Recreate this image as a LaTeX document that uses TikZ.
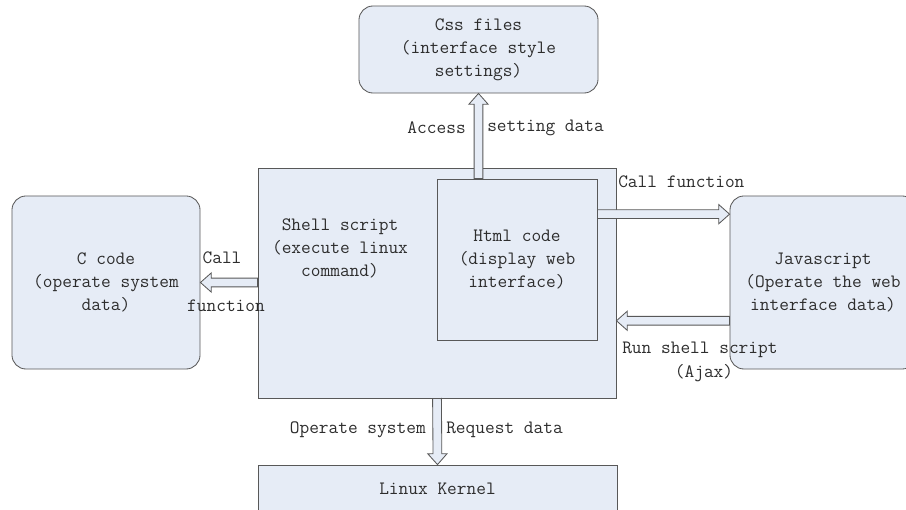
\documentclass[tikz,border=0pt]{standalone}
\usetikzlibrary{calc,positioning}
\definecolor{boxfill}{RGB}{230,236,246}
\definecolor{edgecol}{RGB}{88,88,88}
\definecolor{txtcol}{RGB}{45,45,45}
\tikzset{%
	block/.style      = {draw=edgecol, fill=boxfill, line width=0.6pt, rectangle, align=center, text=txtcol, font=\ttfamily\fontsize{13.4}{16.3}\selectfont},
	roundblock/.style = {block, rounded corners=0.35cm}, % rounded box
	txt/.style        = {inner sep=0pt, align=center, text=txtcol, font=\ttfamily\fontsize{13.4}{16.3}\selectfont},
	% hollow double-line arrow
	pipe/.style       = {draw=edgecol, fill=boxfill, line width=0.6pt, line join=miter,
		to path={
			($(\tikztostart)!0.11cm!90:(\tikztotarget)$)
			-- ($($(\tikztotarget)!0.27cm!(\tikztostart)$)!0.11cm!90:(\tikztotarget)$)
			-- ($($(\tikztotarget)!0.27cm!(\tikztostart)$)!0.24cm!90:(\tikztotarget)$)
			-- (\tikztotarget)
			-- ($($(\tikztotarget)!0.27cm!(\tikztostart)$)!0.24cm!-90:(\tikztotarget)$)
			-- ($($(\tikztotarget)!0.27cm!(\tikztostart)$)!0.11cm!-90:(\tikztotarget)$)
			-- ($(\tikztostart)!0.11cm!-90:(\tikztotarget)$) -- cycle}},
}

\begin{document}
\begin{tikzpicture}[x=0.025cm, y=-0.025cm]
	\useasboundingbox (0,0) rectangle (906,510);
	\clip (0,0) rectangle (906,510);
	
	\node[block, minimum width=8.95cm, minimum height=5.75cm] (shell) at (437,283) {};
	\node[txt] (shelltext) at (340,248) {Shell script\\(execute linux\\command)};
	\node[block, minimum width=4cm, minimum height=4.025cm] (html) at (517,259.5) {Html code\\(display web\\interface)};
	\node[roundblock, minimum width=5.975cm, minimum height=2.175cm] (css) at (478.5,49.5) {Css files\\(interface style\\settings)};
	\node[roundblock, minimum width=4.7cm, minimum height=4.325cm] (c) at (106,282.5) {C code\\(operate system\\data)};
	\node[roundblock, minimum width=4.65cm, minimum height=4.325cm] (js) at (823,282.5) {Javascript\\(Operate the web\\interface data)};
	\node[block, minimum width=8.975cm, minimum height=1.175cm] (kernel) at (437.5,488.5) {Linux Kernel};
	
	\coordinate (callout) at ($(html.north east)!0.22!(html.south east)$);
	\coordinate (ajaxin) at ($(js.north west)!0.72!(js.south west)$);
	
	\draw[pipe] (css.south |- html.north) to (css.south);
	\draw[pipe] (shell.west |- c.east) to (c.east);
	\draw[pipe] (callout) to (callout -| js.west);
	\draw[pipe] (ajaxin) to (ajaxin -| shell.east);
	\draw[pipe] (shell.south) to (kernel.north);
	
	\node[txt, anchor=east] (access) at (466,128) {Access};
	\node[txt, anchor=west] (setting) at (487,128) {setting data};
	\node[txt] (callc) at (222,258) {Call};
	\node[txt] (funcc) at (226,306) {function};
	\node[txt, anchor=west] (calljs) at (618,182) {Call function};
	\node[txt, anchor=west] (runsh) at (622,350) {Run shell script};
	\node[txt] (ajax) at (704,373) {(Ajax)};
	\node[txt, anchor=east] (opsys) at (426,430) {Operate system};
	\node[txt, anchor=west] (reqdata) at (446,430) {Request data};
\end{tikzpicture}
\end{document}
